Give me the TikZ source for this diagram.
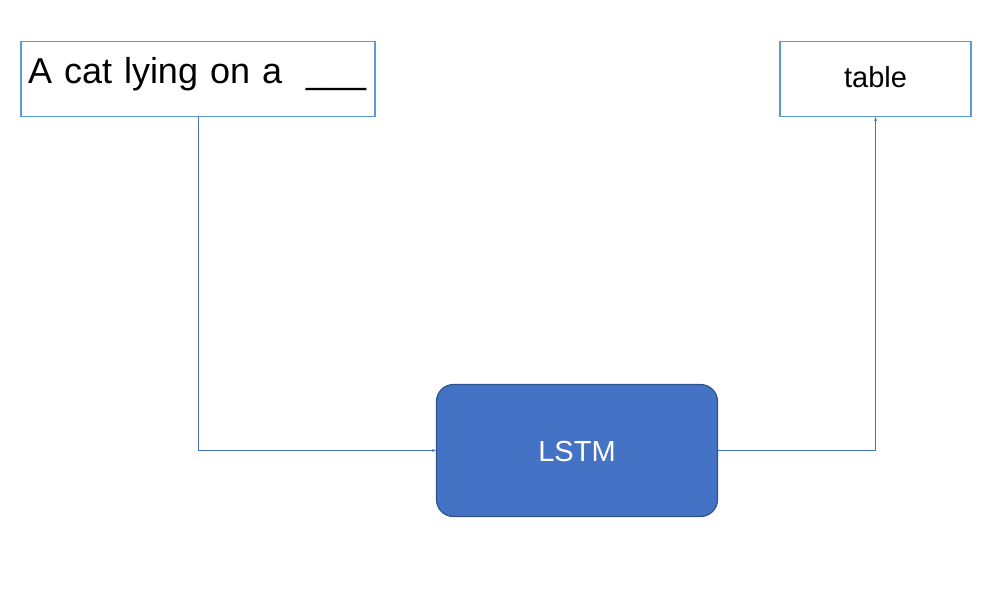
\documentclass[tikz,border=0pt]{standalone}
\usepackage{fontspec}
\setmainfont{Liberation Sans}
\usetikzlibrary{arrows.meta}

\definecolor{cajaborde}{RGB}{91,155,213}
\definecolor{azul}{RGB}{68,114,196}
\definecolor{azulosc}{RGB}{47,82,143}

\tikzset{
	caja/.style={draw=cajaborde, line width=1.4pt, minimum height=75pt},
	flecha/.style={draw=azul, line width=0.9pt, -{Stealth[length=4pt,width=3pt]}}
}

\begin{document}
\begin{tikzpicture}[x=1pt,y=-1pt]
\useasboundingbox (0,0) rectangle (991,596);

\node[caja, minimum width=354pt, text width=340pt, inner xsep=7pt, align=left,
	font=\fontsize{36}{40}\selectfont, text height=26pt, text depth=16pt]
	(frase) at (198,79) {A cat lying on a\ \ \_\_\_};
\node[caja, minimum width=191pt, font=\fontsize{29}{32}\selectfont,
	text height=21pt, text depth=3pt]
	(salida) at (875.5,79) {table};
\node[draw=azulosc, fill=azul, line width=1.2pt, rounded corners=17pt,
	minimum width=281pt, minimum height=132pt, text=white,
	font=\fontsize{29}{32}\selectfont, text height=21pt, text depth=0pt]
	(lstm) at (577,450.5) {LSTM};

%% Conexiones %%
\draw[flecha] (frase.south) |- (lstm.west);
\draw[flecha] (lstm.east) -| (salida.south);
\end{tikzpicture}
\end{document}
